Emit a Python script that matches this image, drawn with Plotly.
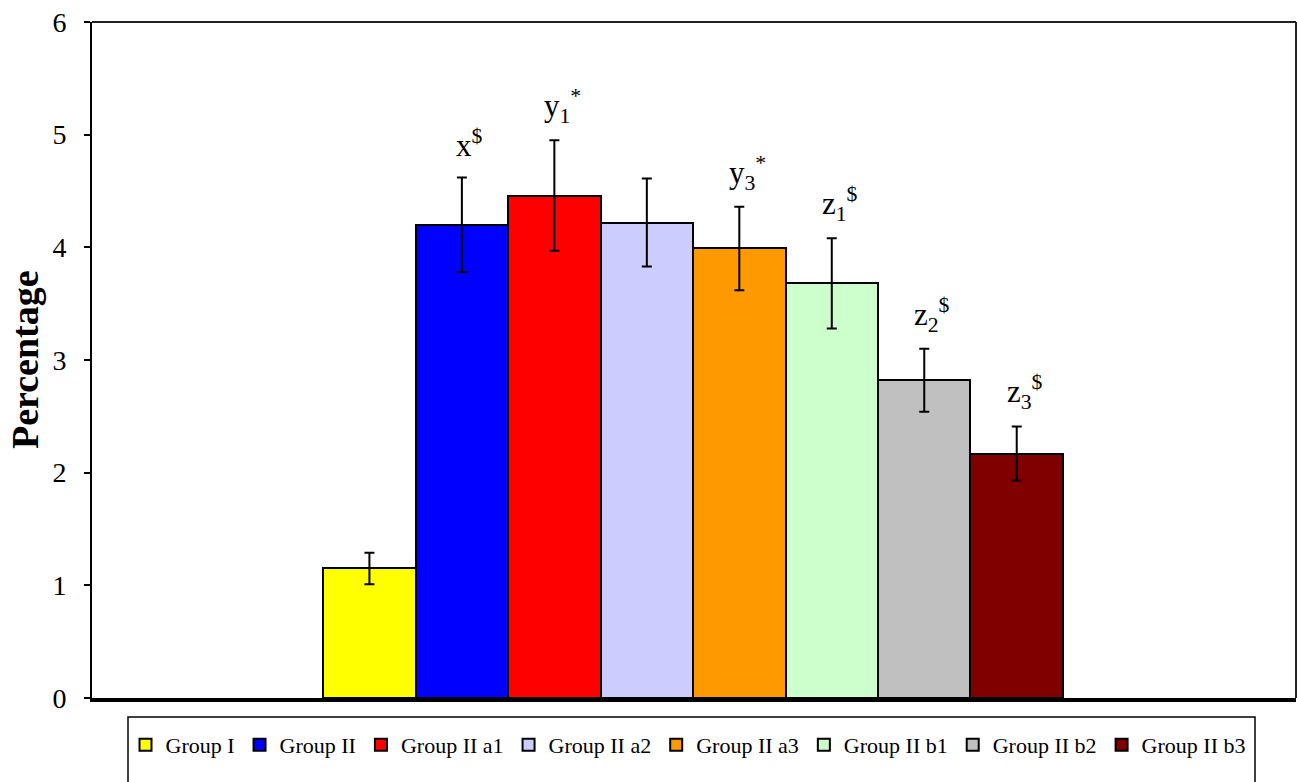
import plotly.graph_objects as go

# Group means and standard errors (percentage)
groups = ["Group I", "Group II", "Group II a1", "Group II a2",
          "Group II a3", "Group II b1", "Group II b2", "Group II b3"]
means = [1.15, 4.20, 4.46, 4.22, 3.99, 3.68, 2.82, 2.17]
errors = [0.14, 0.42, 0.49, 0.39, 0.37, 0.40, 0.28, 0.24]
colors = ["#FFFF00", "#0000FF", "#FF0000", "#CCCCFF",
          "#FF9900", "#CCFFCC", "#C0C0C0", "#800000"]

# Significance marks placed above selected bars
marks = {
    1: "x<sup>$</sup>",
    2: "y<sub>1</sub><sup>*</sup>",
    4: "y<sub>3</sub><sup>*</sup>",
    5: "z<sub>1</sub><sup>$</sup>",
    6: "z<sub>2</sub><sup>$</sup>",
    7: "z<sub>3</sub><sup>$</sup>",
}
y_ticks = [0, 1, 2, 3, 4, 5, 6]

SERIF = "Liberation Serif, Times New Roman, serif"
PLOT_W, PLOT_H, LEFT, BOTTOM_Y = 1204, 676, 92, 698

fig = go.Figure()
for i, (name, m, e, c) in enumerate(zip(groups, means, errors, colors)):
    fig.add_trace(go.Bar(
        x=[i], y=[m], name=name, width=1,
        marker=dict(color=c, line=dict(color="black", width=2)),
        error_y=dict(type="data", array=[e], visible=True,
                     color="black", thickness=2, width=5),
    ))

for i, txt in marks.items():
    fig.add_annotation(
        x=i, y=means[i] + errors[i], xref="x", yref="y",
        text=txt, showarrow=False, yanchor="bottom", xanchor="center",
        xshift=8, yshift=12 if i == 1 else 10,
        font=dict(family=SERIF, size=31, color="black"),
    )

# Vertical axis title
fig.add_annotation(
    x=(25 - LEFT) / PLOT_W, y=0.5, xref="paper", yref="paper",
    text="<b>Percentage</b>", textangle=-90, showarrow=False,
    xanchor="center", yanchor="middle",
    font=dict(family=SERIF, size=38, color="black"),
)

# Frame (top and right edges) and legend box
fig.add_shape(type="line", xref="paper", yref="paper", x0=0, x1=1, y0=1, y1=1,
              line=dict(color="#222", width=2))
fig.add_shape(type="line", xref="paper", yref="paper", x0=1, x1=1, y0=0, y1=1,
              line=dict(color="#222", width=2))
fig.add_shape(type="rect", xref="paper", yref="paper",
              x0=(128 - LEFT) / PLOT_W, x1=(1255 - LEFT) / PLOT_W,
              y0=-0.2, y1=(BOTTOM_Y - 717) / PLOT_H,
              line=dict(color="black", width=1.5), fillcolor="rgba(0,0,0,0)")

fig.update_layout(
    width=1297, height=782,
    margin=dict(l=LEFT, r=1, t=22, b=84),
    plot_bgcolor="white", paper_bgcolor="white",
    barmode="overlay", bargap=0,
    showlegend=True,
    legend=dict(orientation="h", x=(688 - LEFT) / PLOT_W, xanchor="center",
                y=(BOTTOM_Y - 745) / PLOT_H, yanchor="middle",
                font=dict(family=SERIF, size=22, color="black"),
                bgcolor="rgba(0,0,0,0)", borderwidth=0,
                itemclick=False, itemdoubleclick=False),
    xaxis=dict(range=[-3.0, 10.02], showticklabels=False, ticks="",
               showgrid=False, zeroline=False, showline=True,
               linecolor="black", linewidth=4, fixedrange=True),
    yaxis=dict(range=[0, 6], tickvals=y_ticks, ticks="outside", ticklen=6,
               tickwidth=1.5, tickcolor="black", showgrid=False,
               zeroline=False, showline=True, linecolor="black", linewidth=2,
               ticklabelstandoff=12,
               tickfont=dict(family=SERIF, size=28, color="black"),
               fixedrange=True),
)

fig.write_html("out.html")
